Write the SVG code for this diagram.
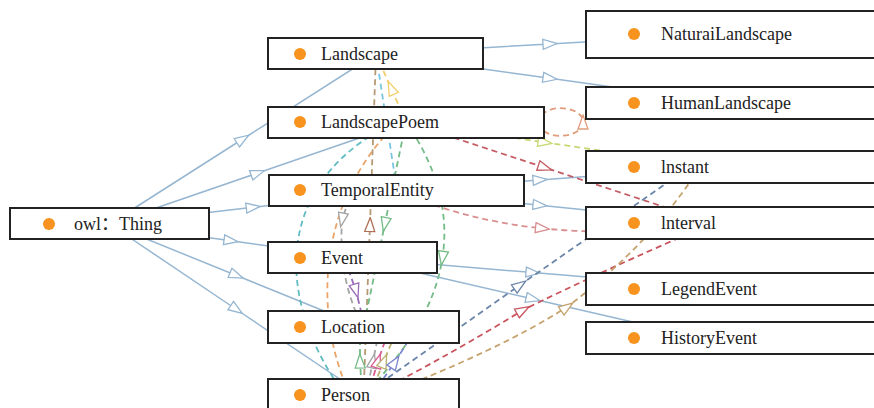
<svg xmlns="http://www.w3.org/2000/svg" width="874" height="408" viewBox="0 0 874 408">
<defs>
<style>
.box{fill:#fff;stroke:#222;stroke-width:2}
.dot{fill:#f7931e}
.lbl{font-size:18px;fill:#222}
.sub{fill:none;stroke:#96b6d1;stroke-width:1.5}
.d{fill:none;stroke-width:1.8;stroke-dasharray:6 4}
</style>
<marker id="m-blue" viewBox="0 0 16 12" markerWidth="16" markerHeight="12" refX="8" refY="6" orient="auto" markerUnits="userSpaceOnUse"><path d="M1,1 L15,6 L1,11 Z" fill="#fff" stroke="#96b6d1" stroke-width="1.3"/></marker>
<marker id="m-yellow" viewBox="0 0 16 12" markerWidth="16" markerHeight="12" refX="8" refY="6" orient="auto" markerUnits="userSpaceOnUse"><path d="M1,1 L15,6 L1,11 Z" fill="#fff" stroke="#f0cf6a" stroke-width="1.3"/></marker>
<marker id="m-ygreen" viewBox="0 0 16 12" markerWidth="16" markerHeight="12" refX="8" refY="6" orient="auto" markerUnits="userSpaceOnUse"><path d="M1,1 L15,6 L1,11 Z" fill="#fff" stroke="#c6da74" stroke-width="1.3"/></marker>
<marker id="m-red" viewBox="0 0 16 12" markerWidth="16" markerHeight="12" refX="8" refY="6" orient="auto" markerUnits="userSpaceOnUse"><path d="M1,1 L15,6 L1,11 Z" fill="#fff" stroke="#c65c63" stroke-width="1.3"/></marker>
<marker id="m-salmon" viewBox="0 0 16 12" markerWidth="16" markerHeight="12" refX="8" refY="6" orient="auto" markerUnits="userSpaceOnUse"><path d="M1,1 L15,6 L1,11 Z" fill="#fff" stroke="#e09c7c" stroke-width="1.3"/></marker>
<marker id="m-pink" viewBox="0 0 16 12" markerWidth="16" markerHeight="12" refX="8" refY="6" orient="auto" markerUnits="userSpaceOnUse"><path d="M1,1 L15,6 L1,11 Z" fill="#fff" stroke="#d98f91" stroke-width="1.3"/></marker>
<marker id="m-slate" viewBox="0 0 16 12" markerWidth="16" markerHeight="12" refX="8" refY="6" orient="auto" markerUnits="userSpaceOnUse"><path d="M1,1 L15,6 L1,11 Z" fill="#fff" stroke="#6b86a8" stroke-width="1.3"/></marker>
<marker id="m-red2" viewBox="0 0 16 12" markerWidth="16" markerHeight="12" refX="8" refY="6" orient="auto" markerUnits="userSpaceOnUse"><path d="M1,1 L15,6 L1,11 Z" fill="#fff" stroke="#c9545d" stroke-width="1.3"/></marker>
<marker id="m-tan" viewBox="0 0 16 12" markerWidth="16" markerHeight="12" refX="8" refY="6" orient="auto" markerUnits="userSpaceOnUse"><path d="M1,1 L15,6 L1,11 Z" fill="#fff" stroke="#c6a26c" stroke-width="1.3"/></marker>
<marker id="m-brown" viewBox="0 0 16 12" markerWidth="16" markerHeight="12" refX="8" refY="6" orient="auto" markerUnits="userSpaceOnUse"><path d="M1,1 L15,6 L1,11 Z" fill="#fff" stroke="#b06f57" stroke-width="1.3"/></marker>
<marker id="m-green" viewBox="0 0 16 12" markerWidth="16" markerHeight="12" refX="8" refY="6" orient="auto" markerUnits="userSpaceOnUse"><path d="M1,1 L15,6 L1,11 Z" fill="#fff" stroke="#74bb86" stroke-width="1.3"/></marker>
<marker id="m-gray" viewBox="0 0 16 12" markerWidth="16" markerHeight="12" refX="8" refY="6" orient="auto" markerUnits="userSpaceOnUse"><path d="M1,1 L15,6 L1,11 Z" fill="#fff" stroke="#a4a4a4" stroke-width="1.3"/></marker>
<marker id="m-purple" viewBox="0 0 16 12" markerWidth="16" markerHeight="12" refX="8" refY="6" orient="auto" markerUnits="userSpaceOnUse"><path d="M1,1 L15,6 L1,11 Z" fill="#fff" stroke="#9a6cb8" stroke-width="1.3"/></marker>
<marker id="m-magenta" viewBox="0 0 16 12" markerWidth="16" markerHeight="12" refX="8" refY="6" orient="auto" markerUnits="userSpaceOnUse"><path d="M1,1 L15,6 L1,11 Z" fill="#fff" stroke="#d95c92" stroke-width="1.3"/></marker>
<marker id="m-olive" viewBox="0 0 16 12" markerWidth="16" markerHeight="12" refX="8" refY="6" orient="auto" markerUnits="userSpaceOnUse"><path d="M1,1 L15,6 L1,11 Z" fill="#fff" stroke="#bab071" stroke-width="1.3"/></marker>
<marker id="m-lavender" viewBox="0 0 16 12" markerWidth="16" markerHeight="12" refX="8" refY="6" orient="auto" markerUnits="userSpaceOnUse"><path d="M1,1 L15,6 L1,11 Z" fill="#fff" stroke="#7d86cc" stroke-width="1.3"/></marker>
</defs>
<rect width="874" height="408" fill="#fff"/>
<g id="connectors">
<path class="sub" marker-mid="url(#m-blue)" d="M109.5,224 L242.75,139 L376,54"/>
<path class="sub" marker-mid="url(#m-blue)" d="M109.5,224 L257.75,173 L406,122"/>
<path class="sub" marker-mid="url(#m-blue)" d="M109.5,224 L253.25,207.25 L397,190.5"/>
<path class="sub" marker-mid="url(#m-blue)" d="M109.5,224 L231,240.75 L352.5,257.5"/>
<path class="sub" marker-mid="url(#m-blue)" d="M109.5,224 L236.5,275.5 L363.5,327"/>
<path class="sub" marker-mid="url(#m-blue)" d="M109.5,224 L236.5,309.5 L363.5,395"/>
<path class="sub" marker-mid="url(#m-blue)" d="M376,54 L550,43.9 L713,34.5"/>
<path class="sub" marker-mid="url(#m-blue)" d="M376,54 L550,78.3 L730,103.5"/>
<path class="sub" marker-mid="url(#m-blue)" d="M397,190.5 L540,179.9 L713,167"/>
<path class="sub" marker-mid="url(#m-blue)" d="M397,190.5 L540,205.2 L713,223"/>
<path class="sub" marker-mid="url(#m-blue)" d="M352.5,257.5 L533,272.6 L730,289"/>
<path class="sub" marker-mid="url(#m-blue)" d="M352.5,257.5 L533,299 L700,337.5"/>

<path class="d" stroke="#62bcc3" d="M345,395 C275,300 275,190 380,130"/>
<path class="d" stroke="#eba56a" d="M350,395 C315,320 315,210 390,130"/>
<path class="d" stroke="#78c6e2" d="M376,54 L397,190.5"/>
<path class="d" stroke="#b59a74" marker-mid="url(#m-brown)" d="M363.5,395 L370,224.5 L376,54"/>
<path class="d" stroke="#74bb86" marker-mid="url(#m-green)" d="M406,122 L384.75,224.5 L363.5,327"/>
<path class="d" stroke="#a4a4a4" marker-mid="url(#m-gray)" d="M352,190 L342,220 Q338,280 363,327"/>
<path class="d" stroke="#9a6cb8" marker-mid="url(#m-purple)" d="M345,260 L356,291 L365,327"/>
<path class="d" stroke="#74bb86" marker-mid="url(#m-green)" d="M406,122 Q453,190 442.4,258.25 Q431.75,326.5 363.5,395"/>
<path class="d" stroke="#74bb86" marker-mid="url(#m-green)" d="M362,395 L360,361 L360,327"/>
<path class="d" stroke="#a4a4a4" marker-mid="url(#m-gray)" d="M366,395 L373,361 L380,327"/>
<path class="d" stroke="#d95c92" marker-mid="url(#m-magenta)" d="M368,395 L378,361 L390,327"/>
<path class="d" stroke="#bab071" marker-mid="url(#m-olive)" d="M370,395 L384,361 L398,327"/>
<path class="d" stroke="#7d86cc" marker-mid="url(#m-lavender)" d="M372,395 L395,362 L415,330"/>

<path class="d" stroke="#f0cf6a" marker-mid="url(#m-yellow)" d="M406,122 L391,88 L376,54"/>
<path class="d" stroke="#c6da74" marker-mid="url(#m-ygreen)" d="M406,122 L545,142.4 L713,167"/>
<path class="d" stroke="#c65c63" marker-mid="url(#m-red)" d="M406,122 L545,167.7 L713,223"/>
<path class="d" stroke="#e09c7c" marker-mid="url(#m-salmon)" d="M544,131 C555,140 583,136 583,122 C583,108 555,104 544,113"/>
<path class="d" stroke="#d98f91" marker-mid="url(#m-pink)" d="M397,190.5 Q463.5,220.25 542.5,228.4 Q621.5,236.5 713,223"/>
<path class="d" stroke="#6b86a8" marker-mid="url(#m-slate)" d="M363.5,395 L520,285 L700,160"/>
<path class="d" stroke="#c9545d" marker-mid="url(#m-red2)" d="M372,395 Q455,352 523,310 Q600,272 713,223"/>
<path class="d" stroke="#c6a26c" marker-mid="url(#m-tan)" d="M375,398 Q500,350 567,307 Q650,245 700,167"/>
</g>
<g font-family="'Liberation Serif', 'Times New Roman', 'DejaVu Serif', serif">
<g id="node-owl-thing"><rect class="box" x="10" y="208" width="199" height="31"/><circle class="dot" cx="49" cy="224" r="6"/><text class="lbl" x="74" y="230">owl<tspan font-family="'Noto Sans CJK SC', sans-serif">：</tspan>Thing</text></g>
<g id="node-landscape"><rect class="box" x="268" y="38" width="215" height="31"/><circle class="dot" cx="300" cy="54" r="6"/><text class="lbl" x="321" y="60">Landscape</text></g>
<g id="node-landscapepoem"><rect class="box" x="268" y="107" width="276" height="31"/><circle class="dot" cx="300" cy="122" r="6"/><text class="lbl" x="321" y="128">LandscapePoem</text></g>
<g id="node-temporalentity"><rect class="box" x="269" y="175" width="255" height="31"/><circle class="dot" cx="300" cy="190" r="6"/><text class="lbl" x="321" y="196">TemporalEntity</text></g>
<g id="node-event"><rect class="box" x="268" y="242" width="169" height="31"/><circle class="dot" cx="300" cy="258" r="6"/><text class="lbl" x="321" y="264">Event</text></g>
<g id="node-location"><rect class="box" x="268" y="311" width="191" height="32"/><circle class="dot" cx="300" cy="327" r="6"/><text class="lbl" x="321" y="333">Location</text></g>
<g id="node-person"><rect class="box" x="268" y="379" width="191" height="40"/><circle class="dot" cx="300" cy="395" r="6"/><text class="lbl" x="321" y="401">Person</text></g>
<g id="node-naturailandscape"><rect class="box" x="586" y="11" width="300" height="47"/><circle class="dot" cx="634" cy="34" r="6"/><text class="lbl" x="661" y="40">NaturaiLandscape</text></g>
<g id="node-humanlandscape"><rect class="box" x="586" y="87" width="300" height="32"/><circle class="dot" cx="634" cy="103" r="6"/><text class="lbl" x="661" y="109">HumanLandscape</text></g>
<g id="node-instant"><rect class="box" x="586" y="151" width="300" height="32"/><circle class="dot" cx="634" cy="167" r="6"/><text class="lbl" x="661" y="173">lnstant</text></g>
<g id="node-interval"><rect class="box" x="586" y="207" width="300" height="32"/><circle class="dot" cx="634" cy="223" r="6"/><text class="lbl" x="661" y="229">lnterval</text></g>
<g id="node-legendevent"><rect class="box" x="586" y="273" width="300" height="32"/><circle class="dot" cx="634" cy="289" r="6"/><text class="lbl" x="661" y="295">LegendEvent</text></g>
<g id="node-historyevent"><rect class="box" x="586" y="322" width="300" height="32"/><circle class="dot" cx="634" cy="338" r="6"/><text class="lbl" x="661" y="344">HistoryEvent</text></g>
</g>
</svg>
